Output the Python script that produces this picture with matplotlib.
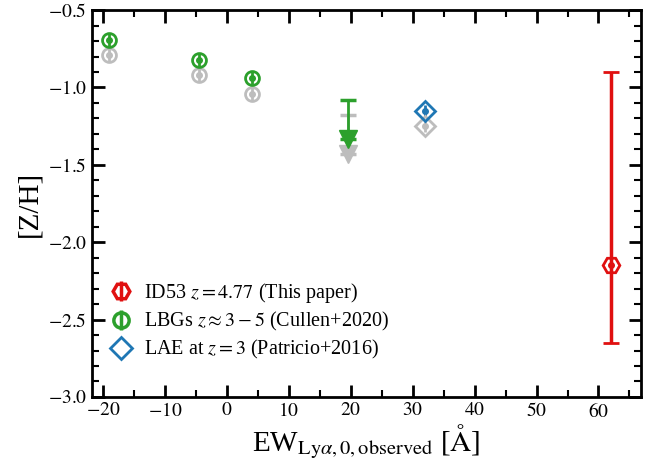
import numpy as np
import matplotlib
matplotlib.use("Agg")
import matplotlib.pyplot as plt

plt.rcParams['font.family'] = 'serif'
plt.rcParams['font.serif'] = ['Liberation Serif', 'DejaVu Serif']
plt.rcParams['mathtext.fontset'] = 'stix'

# LBG stacks (Cullen+2020), two calibrations
lbg_ew = [-19, -4.5, 4]
lbg_z = [-0.69, -0.82, -0.94]
lbg_z_alt = [-0.79, -0.92, -1.04]
lbg_err = 0.04

# upper limit bin
lim_ew = 19.5
lim_top = -1.08
lim_top_alt = -1.18
lim_len = 0.25

# LAE (Patricio+2016)
lae_ew = 32
lae_z = -1.15
lae_z_alt = -1.25

# ID53
id53_ew = 62
id53_z = -2.15
id53_lo = 0.5
id53_hi = 1.25

red = '#e01010'
green = '#2ca02c'
blue = '#1f77b4'
grey = '#bdbdbd'

fig = plt.figure(figsize=(6.51, 4.61), dpi=100)
ax = fig.add_axes([0.141, 0.139, 0.844, 0.839])


def point(x, y, err, marker, col, ms=10):
    ax.errorbar(x, y, yerr=err, fmt=marker, color=col, mec=col, ecolor=col,
                mfc='none', mew=2, ms=ms, elinewidth=2, capsize=0)
    ax.plot(x, y, 'o', color=col, ms=4)


point(lbg_ew, lbg_z_alt, lbg_err, 'o', grey)
point(lbg_ew, lbg_z, lbg_err, 'o', green)

# upper limits: cap at the limit, arrowhead below
ax.errorbar([lim_ew], [lim_top_alt - lim_len], yerr=[[0], [lim_len]], fmt='v', color=grey,
            ms=13, elinewidth=2, capsize=6, capthick=2.5)
ax.errorbar([lim_ew], [lim_top - lim_len], yerr=[[0], [lim_len]], fmt='v', color=green,
            ms=13, elinewidth=2, capsize=6, capthick=2.5)

point([lae_ew], [lae_z_alt], 0.04, 'D', grey)
point([lae_ew], [lae_z], 0.04, 'D', blue)

ax.errorbar([id53_ew], [id53_z], yerr=[[id53_lo], [id53_hi]], fmt='H', color=red,
            mfc='none', mew=2, ms=12, elinewidth=2.5, capsize=6, capthick=2.5)
ax.plot([id53_ew], [id53_z], 'o', color=red, ms=4)

# legend handles
h1 = ax.errorbar([], [], yerr=[], fmt='H', color=red, mfc='none', mew=2.5, ms=12,
                 elinewidth=2.5, capsize=0, label=r'ID53 $z=4.77$ (This paper)')
h2 = ax.errorbar([], [], yerr=[], fmt='o', color=green, mfc='none', mew=2.5, ms=11,
                 elinewidth=2.5, capsize=0, label=r'LBGs $z\approx3-5$ (Cullen+2020)')
h3, = ax.plot([], [], 'D', color=blue, mfc='none', mew=2, ms=11,
              label=r'LAE at $z=3$ (Patricio+2016)')
ax.legend(handles=[h1, h2, h3], loc='lower left', bbox_to_anchor=(0.0, 0.05),
          frameon=False, fontsize=14.5, handlelength=1.3, handletextpad=0.5,
          borderaxespad=0.4, labelspacing=0.25)

ax.set_xlim(-21.8, 66.9)
ax.set_ylim(-3.0, -0.5)
ax.set_xticks(np.arange(-20, 61, 10))
ax.set_yticks(np.arange(-3.0, -0.49, 0.5))
ax.set_xticks(np.arange(-20, 66, 5), minor=True)
ax.set_yticks(np.arange(-3.0, -0.49, 0.1), minor=True)
ax.yaxis.set_major_formatter(matplotlib.ticker.FuncFormatter(lambda v, p: '$%.1f$' % v))
ax.xaxis.set_major_formatter(matplotlib.ticker.FuncFormatter(lambda v, p: '$%d$' % v))

ax.tick_params(which='both', direction='in', top=True, right=True, labelsize=14)
ax.tick_params(which='major', length=9, width=2)
ax.tick_params(which='minor', length=5, width=1.5)
for s in ax.spines.values():
    s.set_linewidth(2)

ax.set_xlabel(r'EW$_{\mathrm{Ly}\alpha\mathrm{,0,observed}}$ [$\mathrm{\AA}$]', fontsize=21,
              labelpad=1)
ax.set_ylabel('[Z/H]', fontsize=21)

fig.savefig('out.png', dpi=100)
